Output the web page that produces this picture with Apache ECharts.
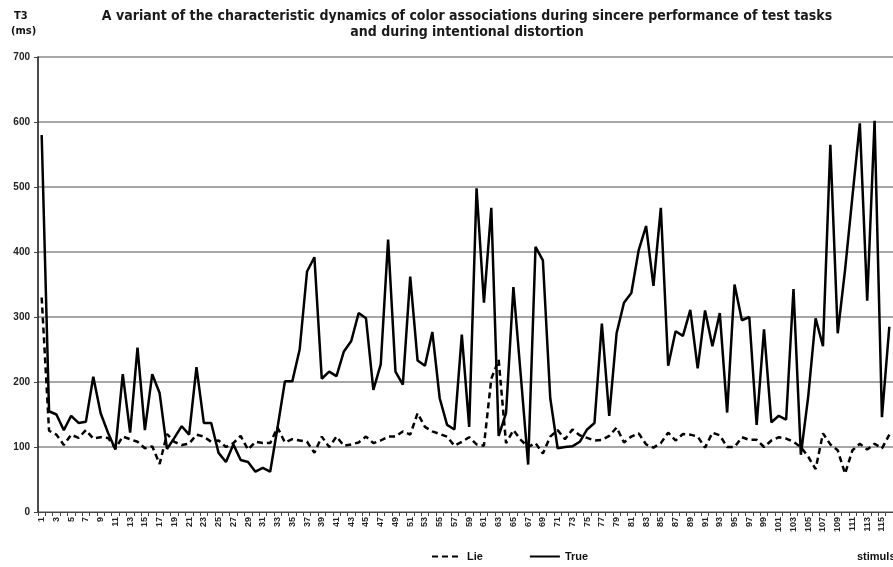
<!DOCTYPE html>
<html>
<head>
<meta charset="utf-8">
<script src="https://cdn.jsdelivr.net/npm/echarts@6/dist/echarts.min.js"></script>
<style>html,body{margin:0;padding:0;background:#fff;}#c{width:893px;height:567px;}</style>
</head>
<body>
<div id="c"></div>
<script>
const categories = [1,2,3,4,5,6,7,8,9,10,11,12,13,14,15,16,17,18,19,20,21,22,23,24,25,26,27,28,29,30,31,32,33,34,35,36,37,38,39,40,41,42,43,44,45,46,47,48,49,50,51,52,53,54,55,56,57,58,59,60,61,62,63,64,65,66,67,68,69,70,71,72,73,74,75,76,77,78,79,80,81,82,83,84,85,86,87,88,89,90,91,92,93,94,95,96,97,98,99,100,101,102,103,104,105,106,107,108,109,110,111,112,113,114,115,116];

const trueValues = [580,155,150,126,148,137,139,208,152,122,96,212,122,253,126,212,183,97,114,132,
119,223,137,137,91,77,104,80,77,62,68,62,130,201,201,250,370,392,205,216,
209,247,263,306,298,188,227,419,216,196,362,233,225,277,175,134,127,273,131,498,
322,468,117,152,346,210,73,408,387,175,98,100,101,108,127,137,290,148,275,322,
337,403,440,348,468,225,278,271,311,221,310,255,306,153,350,295,300,134,281,138,
148,142,343,88,178,298,255,565,275,373,486,598,325,602,146,285];

const lieValues = [330,125,119,103,119,114,126,113,115,114,98,116,112,108,98,101,74,120,108,103,
105,119,116,108,110,100,106,117,96,108,106,106,130,107,112,110,108,91,116,100,
116,102,104,107,116,106,110,116,116,124,119,152,131,124,120,116,102,108,115,104,
102,205,234,106,126,111,100,106,90,116,126,112,127,118,114,110,111,117,130,107,
116,121,104,99,106,122,110,120,119,116,99,122,118,100,100,115,111,111,100,110,
115,113,108,100,85,66,121,104,95,59,95,105,96,105,98,119];

const yTicks = [0,100,200,300,400,500,600,700];

const titleText = 'A variant of the characteristic dynamics of color associations during sincere performance of test tasks\nand during intentional distortion';

const chart = echarts.init(document.getElementById('c'), null, {renderer: 'canvas'});
const narrow = "'Liberation Sans Narrow', 'DejaVu Sans Condensed', 'Liberation Sans', sans-serif";
chart.setOption({
  animation: false,
  backgroundColor: '#ffffff',
  title: {
    text: titleText,
    left: 467,
    top: 8,
    padding: 0,
    textAlign: 'center',
    textStyle: {fontFamily: narrow, fontSize: 14, fontWeight: 'bold', color: '#1a1a1a', lineHeight: 16}
  },
  graphic: [
    {type: 'text', left: 14, top: 11, style: {text: 'T3', fontFamily: narrow, fontSize: 11, fontWeight: 'bold', fill: '#111'}},
    {type: 'text', left: 11, top: 26, style: {text: '(ms)', fontFamily: narrow, fontSize: 11, fontWeight: 'bold', fill: '#111'}},
    {type: 'text', left: 857, top: 551, style: {text: 'stimuls', fontFamily: "'Liberation Sans', sans-serif", fontSize: 11, fontWeight: 'bold', fill: '#111'}}
  ],
  legend: {
    show: true,
    orient: 'horizontal',
    left: 426,
    top: 546,
    itemGap: 46,
    itemWidth: 30,
    itemHeight: 12,
    itemStyle: {opacity: 0},
    textStyle: {fontFamily: "'Liberation Sans', sans-serif", fontSize: 11, fontWeight: 'bold', color: '#111'},
    data: ['Lie', 'True']
  },
  grid: {left: 38, right: -3.4, top: 57, bottom: 55, containLabel: false},
  xAxis: {
    type: 'category',
    data: categories,
    boundaryGap: true,
    axisLine: {lineStyle: {color: '#444', width: 1}},
    axisTick: {show: true, interval: 0, length: 4, lineStyle: {color: '#444'}},
    axisLabel: {interval: 1, rotate: 90, fontSize: 9, fontWeight: 'bold', color: '#222', fontFamily: "'Liberation Sans', sans-serif", margin: 5},
    splitLine: {show: false}
  },
  yAxis: {
    type: 'value',
    min: 0,
    max: 700,
    interval: 100,
    axisLine: {show: true, lineStyle: {color: '#111', width: 1.5}},
    axisTick: {show: true, length: 4, lineStyle: {color: '#444'}},
    axisLabel: {fontSize: 10, fontWeight: 'bold', color: '#222', fontFamily: "'Liberation Sans', sans-serif", margin: 8,
      formatter: v => yTicks.indexOf(v) >= 0 ? String(v) : ''},
    splitLine: {show: true, lineStyle: {color: '#8a8a8a', width: 1.5}}
  },
  series: [
    {
      name: 'Lie',
      type: 'line',
      data: lieValues,
      symbol: 'none',
      lineStyle: {color: '#000', width: 2.5, type: [6, 4]},
      itemStyle: {color: '#000'},
      z: 3
    },
    {
      name: 'True',
      type: 'line',
      data: trueValues,
      symbol: 'none',
      lineStyle: {color: '#000', width: 2.5, type: 'solid'},
      itemStyle: {color: '#000'},
      z: 4
    }
  ]
});
</script>
</body>
</html>
